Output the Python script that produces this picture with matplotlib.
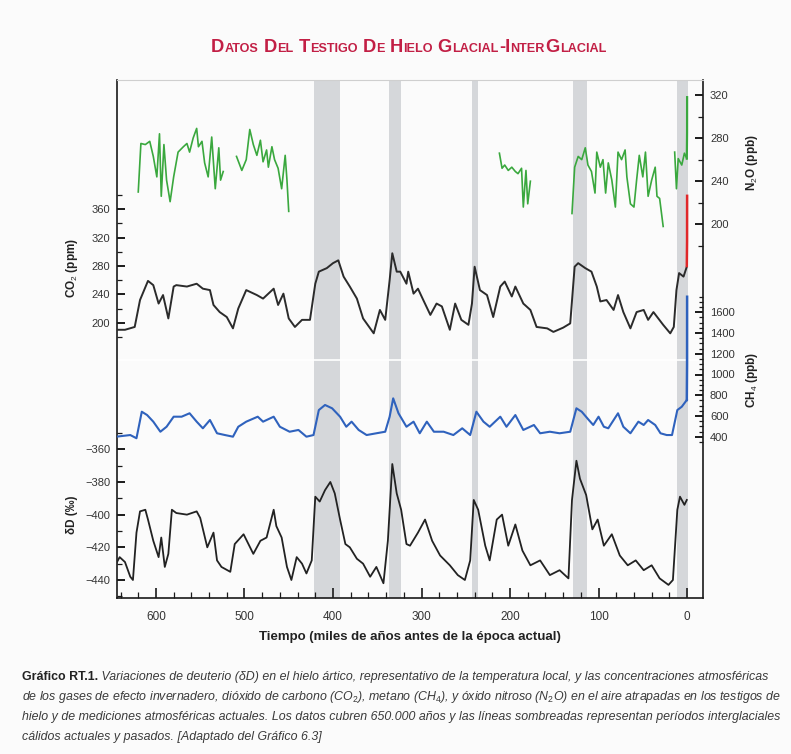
import numpy as np
import matplotlib
matplotlib.use('Agg')
import matplotlib.pyplot as plt
from matplotlib.ticker import FixedLocator

plt.rcParams['font.family'] = ['Liberation Sans', 'DejaVu Sans']
plt.rcParams['mathtext.fontset'] = 'custom'
plt.rcParams['mathtext.rm'] = 'Liberation Sans'
plt.rcParams['mathtext.it'] = 'Liberation Sans:italic'
plt.rcParams['mathtext.bf'] = 'Liberation Sans:bold'

# ---------------- DATA (ages in thousands of years before present) ----------------
co2_age = [645, 635, 624, 618, 609, 603, 597, 592, 586, 580,
           577, 565, 554, 547, 539, 535, 528, 520, 513, 507,
           498, 486, 479, 467, 462, 456, 450, 443, 435, 426,
           420, 416, 407, 400, 394, 388, 381, 373, 366, 354,
           347, 341, 336, 333, 328, 324, 317, 315, 309, 304,
           298, 290, 283, 277, 268, 262, 255, 247, 243, 240,
           234, 226, 219, 211, 206, 198, 194, 185, 177, 170,
           158, 151, 140, 132, 127, 123, 115, 108, 102, 98,
           91, 83, 78, 72, 64, 57, 49, 44, 38, 27,
           19, 15, 12, 9, 4, 0.3]
co2_ppm = [190, 190, 194, 232, 259, 253, 227, 239, 206, 251,
           253, 251, 255, 248, 246, 225, 215, 208, 192, 220,
           246, 239, 234, 248, 225, 241, 206, 194, 204, 204,
           255, 272, 277, 284, 288, 265, 251, 234, 206, 185,
           218, 204, 260, 298, 272, 272, 255, 272, 241, 248,
           232, 211, 227, 223, 190, 227, 204, 197, 227, 279,
           246, 239, 208, 251, 258, 237, 251, 227, 218, 194,
           192, 187, 193, 199, 279, 284, 277, 272, 251, 230,
           232, 218, 239, 215, 192, 215, 218, 204, 215, 197,
           185, 194, 246, 270, 265, 279]
co2_modern_age = [0.3, 0.0, -0.05]
co2_modern_ppm = [280, 315, 379]

ch4_age = [645, 629, 622, 616, 610, 603, 595, 588, 580, 571,
           562, 554, 547, 539, 531, 522, 513, 507, 498, 485,
           479, 467, 460, 449, 439, 430, 422, 416, 409, 401,
           392, 385, 379, 371, 362, 351, 341, 336, 332, 326,
           317, 309, 302, 294, 286, 275, 264, 254, 245, 238,
           230, 223, 211, 204, 194, 185, 173, 166, 155, 144,
           132, 125, 119, 111, 106, 100, 94, 89, 78, 72,
           64, 55, 49, 44, 36, 30, 23, 17, 11, 6,
           0.3]
ch4_ppb = [400, 416, 385, 641, 609, 545, 448, 496, 593, 593,
           626, 545, 481, 561, 433, 416, 400, 496, 545, 593,
           545, 593, 496, 448, 465, 400, 416, 657, 706, 674,
           593, 496, 545, 465, 416, 433, 448, 593, 770, 626,
           496, 545, 433, 545, 448, 448, 416, 481, 416, 641,
           545, 496, 593, 496, 609, 465, 513, 433, 448, 433,
           448, 674, 641, 561, 513, 593, 496, 481, 626, 496,
           433, 545, 513, 561, 513, 433, 416, 416, 657, 689,
           754]
ch4_modern_age = [0.3, 0.0, -0.05]
ch4_modern_ppb = [754, 1100, 1750]

n2o_age = [620, 617, 612, 607, 603, 599, 596, 594, 591, 588,
           584, 580, 575, 569, 565, 562, 558, 554, 552, 548,
           545, 541, 537, 533, 529, 527, 524, np.nan,
           509, 503, 498, 494, 490, 486, 482, 479, 475, 473,
           469, 466, 462, 458, 454, 452, 450, np.nan,
           212, 209, 206, 202, 198, 194, 191, 187, 185, 182,
           180, 177, np.nan,
           130, 127, 123, 119, 115, 112, 108, 104, 102, 98,
           95, 92, 89, 85, 81, 78, 74, 70, 68, 64,
           60, 57, 54, 50, 47, 44, 40, 36, 34, 31,
           27, np.nan,
           14, 12, 10, 6, 3, 0.3]
n2o_ppb = [230, 275, 274, 277, 263, 244, 284, 226, 274, 241,
           221, 244, 267, 272, 275, 267, 280, 289, 272, 277,
           257, 244, 281, 233, 271, 241, 249, np.nan,
           263, 250, 260, 288, 274, 264, 278, 258, 269, 253,
           272, 260, 252, 233, 264, 241, 212, np.nan,
           266, 252, 255, 250, 253, 249, 247, 252, 216, 250,
           219, 240, np.nan,
           210, 253, 263, 260, 271, 255, 249, 229, 267, 253,
           260, 229, 257, 241, 216, 267, 260, 269, 244, 219,
           216, 241, 264, 244, 267, 226, 241, 253, 226, 224,
           198, np.nan,
           267, 233, 261, 255, 266, 261]
n2o_modern_age = [0.3, 0.0, -0.05]
n2o_modern_ppb = [261, 285, 318]

dd_age = [645, 641, 635, 629, 626, 622, 618, 612, 609, 603,
          597, 594, 590, 586, 582, 577, 565, 554, 550, 542,
          535, 531, 526, 516, 511, 501, 490, 482, 475, 467,
          464, 458, 452, 447, 441, 435, 430, 424, 420, 415,
          409, 403, 398, 392, 386, 381, 373, 366, 358, 351,
          343, 338, 333, 328, 323, 317, 313, 304, 296, 288,
          279, 268, 259, 251, 245, 241, 236, 228, 223, 215,
          209, 202, 194, 186, 177, 166, 155, 144, 134, 130,
          125, 121, 114, 107, 101, 94, 85, 76, 67, 58,
          49, 40, 31, 21, 16, 11, 8, 3, 0.3]
dd_permil = [-430, -426, -429, -438, -440, -411, -398, -397, -403, -416,
             -426, -414, -432, -424, -397, -399, -400, -398, -402, -420,
             -411, -428, -432, -435, -418, -412, -424, -416, -414, -397,
             -407, -414, -432, -440, -426, -430, -436, -428, -389, -392,
             -385, -380, -387, -403, -418, -420, -427, -430, -438, -432,
             -442, -416, -369, -387, -397, -418, -419, -411, -403, -416,
             -425, -431, -437, -440, -428, -391, -397, -419, -428, -403,
             -400, -419, -406, -422, -431, -428, -437, -434, -439, -391,
             -367, -378, -388, -409, -403, -419, -412, -425, -431, -428,
             -434, -431, -439, -443, -440, -397, -389, -394, -391]

# interglacial periods (shaded), kyr BP
interglacial_old = [421, 337, 243, 129, 11]
interglacial_young = [392, 323, 236, 113, -1]

# ticks
x_major = [600, 500, 400, 300, 200, 100, 0]
x_minor = list(range(640, -1, -20))
co2_major = [200, 240, 280, 320, 360]
co2_minor = list(range(180, 381, 20))
dd_major = [-440, -420, -400, -380, -360]
dd_minor = list(range(-450, -349, 10))
n2o_major = [200, 240, 280, 320]
n2o_minor = list(range(180, 321, 20))
ch4_major = [400, 600, 800, 1000, 1200, 1400, 1600]
ch4_minor = list(range(350, 1751, 50))

title_text = "Datos Del Testigo De Hielo Glacial-InterGlacial"
xlabel_text = "Tiempo (miles de años antes de la época actual)"
caption_bold = "Gráfico RT.1."
caption_lines = [
    " Variaciones de deuterio (δD) en el hielo ártico, representativo de la temperatura local, y las concentraciones atmosféricas",
    "de los gases de efecto invernadero, dióxido de carbono (CO$_2$), metano (CH$_4$), y óxido nitroso (N$_2$O) en el aire atrapadas en los testigos de",
    "hielo y de mediciones atmosféricas actuales. Los datos cubren 650.000 años y las líneas sombreadas representan períodos interglaciales",
    "cálidos actuales y pasados. [Adaptado del Gráfico 6.3]",
]

# ---------------- FIGURE ----------------
W, H = 791, 754
fig = plt.figure(figsize=(W / 100, H / 100), dpi=100)
fig.patch.set_facecolor('#fbfbfb')

L, R, T, B = 117, 703, 80, 598
rect = [L / W, 1 - B / H, (R - L) / W, (B - T) / H]


def fx(px):
    return px / W


def fy(py):
    return 1 - py / H


ax = fig.add_axes(rect)
ax.set_facecolor('#fbfbfb')
ax.set_xlim(644, -18)
ax.set_ylim(0, 1)
for a0, a1 in zip(interglacial_old, interglacial_young):
    ax.axvspan(a0, a1, color='#d5d7da', lw=0, zorder=0)
ax.axhline(1 - (360 - T) / (B - T), color='white', lw=1.2, zorder=0.5)

ax.spines['top'].set_color('#cfcfcf')
ax.spines['top'].set_linewidth(0.8)
for s in ['left', 'right', 'bottom']:
    ax.spines[s].set_color('#1a1a1a')
    ax.spines[s].set_linewidth(1.2)
ax.set_yticks([])
ax.xaxis.set_major_locator(FixedLocator(x_major))
ax.xaxis.set_minor_locator(FixedLocator(x_minor))
ax.set_xticklabels([str(v) for v in x_major])
ax.tick_params(axis='x', which='major', direction='in', length=7, width=1.2,
               pad=9, labelsize=8.5, colors='#1a1a1a', labelcolor='#333333')
ax.tick_params(axis='x', which='minor', direction='in', length=4, width=0.9, colors='#1a1a1a')
ax.set_xlabel(xlabel_text, fontsize=9.5, fontweight='bold', labelpad=6, color='#222222')


def overlay(v1, p1, v2, p2, side):
    a = fig.add_axes(rect, sharex=ax)
    a.patch.set_visible(False)
    for s in a.spines.values():
        s.set_visible(False)
    slope = (v2 - v1) / (p2 - p1)
    a.set_ylim(v1 + (B - p1) * slope, v1 + (T - p1) * slope)
    a.tick_params(axis='x', which='both', bottom=False, top=False,
                  labelbottom=False, labeltop=False)
    if side == 'right':
        a.yaxis.tick_right()
        a.tick_params(axis='y', which='both', left=False, right=True,
                      labelleft=False, labelright=True)
    a.tick_params(axis='y', which='major', direction='in', length=6, width=1.4,
                  labelsize=8, labelcolor='#333333', colors='#1a1a1a', pad=5)
    a.tick_params(axis='y', which='minor', direction='in', length=3.5, width=0.9,
                  colors='#1a1a1a')
    return a


# N2O (right, top)
a_n2o = overlay(320, 95, 200, 224.3, 'right')
a_n2o.yaxis.set_major_locator(FixedLocator(n2o_major))
a_n2o.yaxis.set_minor_locator(FixedLocator(n2o_minor))
a_n2o.plot(n2o_age, n2o_ppb, color='#3aa83e', lw=1.2)
a_n2o.plot(n2o_modern_age, n2o_modern_ppb, color='#3aa83e', lw=1.6)

# CO2 (left)
a_co2 = overlay(360, 209.3, 200, 322.7, 'left')
a_co2.yaxis.set_major_locator(FixedLocator(co2_major))
a_co2.yaxis.set_minor_locator(FixedLocator(co2_minor))
a_co2.plot(co2_age, co2_ppm, color='#2b2b2b', lw=1.4)
a_co2.plot(co2_modern_age, co2_modern_ppm, color='#e0282a', lw=1.8)

# CH4 (right)
a_ch4 = overlay(1600, 312.3, 400, 436.7, 'right')
a_ch4.yaxis.set_major_locator(FixedLocator(ch4_major))
a_ch4.yaxis.set_minor_locator(FixedLocator(ch4_minor))
a_ch4.tick_params(axis='y', which='minor', length=3)
a_ch4.plot(ch4_age, ch4_ppb, color='#2f62bd', lw=1.5)
a_ch4.plot(ch4_modern_age, ch4_modern_ppb, color='#2f62bd', lw=1.8)

# deltaD (left, bottom)
a_dd = overlay(-360, 449.3, -440, 580, 'left')
a_dd.yaxis.set_major_locator(FixedLocator(dd_major))
a_dd.yaxis.set_minor_locator(FixedLocator(dd_minor))
a_dd.plot(dd_age, dd_permil, color='#222222', lw=1.3)

# axis labels
fig.text(fx(72), fy(268), 'CO$_2$ (ppm)', rotation=90, ha='center', va='center',
         fontsize=8.5, fontweight='bold', color='#222222')
fig.text(fx(72), fy(515), 'δD (‰)', rotation=90, ha='center', va='center',
         fontsize=8.5, fontweight='bold', color='#222222')
fig.text(fx(752), fy(163), 'N$_2$O (ppb)', rotation=90, ha='center', va='center',
         fontsize=8.5, fontweight='bold', color='#222222')
fig.text(fx(752), fy(380), 'CH$_4$ (ppb)', rotation=90, ha='center', va='center',
         fontsize=8.5, fontweight='bold', color='#222222')

# title in small caps
renderer = fig.canvas.get_renderer()
big_fs, small_fs = 13.2, 9.1
title_color = '#c21f45'
runs = []
for ch in title_text:
    if ch == ' ':
        runs.append([' ', 'space'])
        continue
    kind = 'big' if (ch.isupper() or not ch.isalpha()) else 'small'
    if runs and runs[-1][1] == kind:
        runs[-1][0] += ch.upper()
    else:
        runs.append([ch.upper(), kind])
items = []
total = 0.0
for s, kind in runs:
    if kind == 'space':
        items.append((None, 4.5))
        total += 4.5
        continue
    t = fig.text(0, fy(52), s, fontsize=big_fs if kind == 'big' else small_fs,
                 fontweight='bold', color=title_color, va='baseline', ha='left')
    w = t.get_window_extent(renderer).width + 0.4
    items.append((t, w))
    total += w
xpos = 409 - total / 2
for t, w in items:
    if t is not None:
        t.set_x(fx(xpos))
    xpos += w

# caption
cap_fs = 8.9
tb = fig.text(fx(22), fy(677), caption_bold, fontsize=cap_fs, fontweight='bold',
              color='#222222', va='center', ha='left')
wb = tb.get_window_extent(renderer).width
ys = [677, 697, 717, 737]
for i, line in enumerate(caption_lines):
    x0 = 22 + (wb if i == 0 else 0)
    fig.text(fx(x0), fy(ys[i]), line, fontsize=cap_fs, fontstyle='italic',
             color='#3a3a3a', va='center', ha='left')

fig.savefig('out.png', dpi=100, facecolor=fig.get_facecolor())
